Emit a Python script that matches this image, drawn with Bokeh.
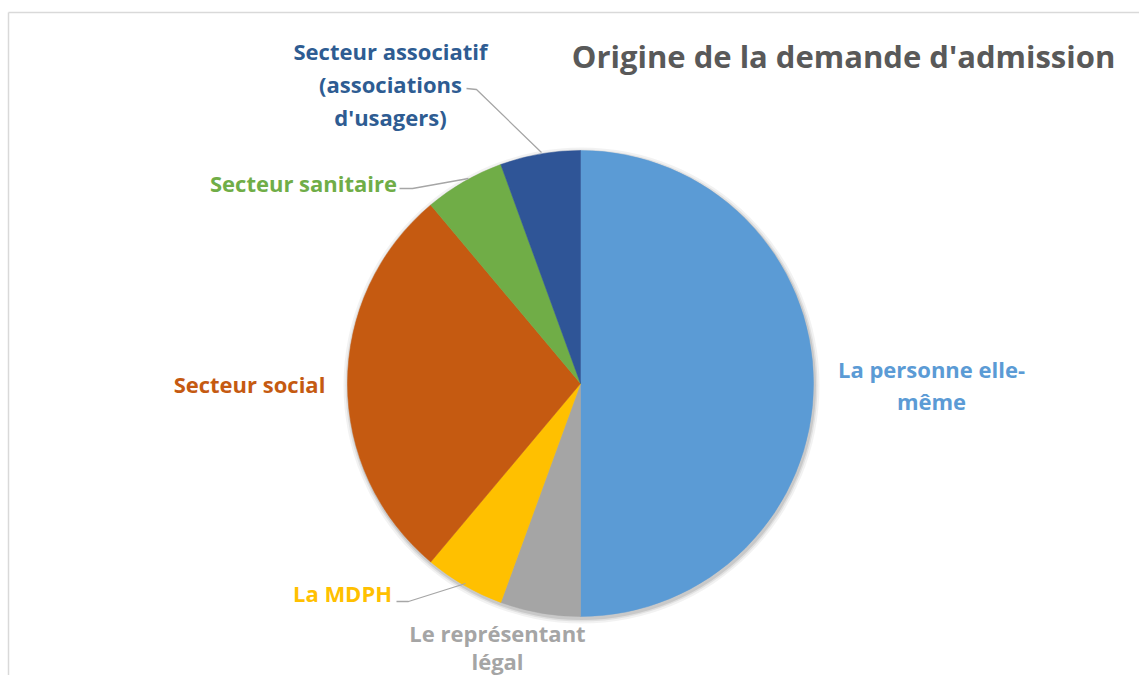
import math
from bokeh.plotting import figure
from bokeh.models import Range1d
from bokeh.core.properties import value
from bokeh.embed import file_html
from bokeh.resources import INLINE

# ---- data ----
categories = ["La personne elle-même", "Le représentant légal", "La MDPH",
              "Secteur social", "Secteur sanitaire",
              "Secteur associatif (associations d'usagers)"]
counts = [9, 1, 1, 5, 1, 1]
slice_colors = ["#5B9BD5", "#A5A5A5", "#FFC000", "#C55A11", "#70AD47", "#2F5597"]
label_colors = ["#5B9BD5", "#A5A5A5", "#FFC000", "#C55A11", "#70AD47", "#2E5C92"]
title_text = "Origine de la demande d'admission"

W, H = 1139, 675
FONT = "Open Sans"

p = figure(width=W, height=H, output_backend="svg", toolbar_location=None,
           x_range=Range1d(0, W), y_range=Range1d(0, H),
           min_border=0, outline_line_color=None)
p.axis.visible = False
p.grid.visible = False
p.background_fill_color = "white"
p.border_fill_color = "white"


def Y(sy):
    return H - sy


# chart frame border (light grey)
p.line([8, 8], [Y(12), Y(700)], line_color="#D9D9D9", line_width=1.5)
p.line([8, 1150], [Y(12), Y(12)], line_color="#D9D9D9", line_width=1.5)

# pie
cx, cy, R = 580, Y(383), 233
total = sum(counts)
starts, ends = [], []
acc = 0.0
for c in counts:
    a0 = math.pi / 2 - acc / total * 2 * math.pi
    acc += c
    a1 = math.pi / 2 - acc / total * 2 * math.pi
    starts.append(a0)
    ends.append(a1)

# soft shadow
for r, a in [(R + 5, 0.05), (R + 3, 0.07), (R + 1.5, 0.1)]:
    p.circle(x=[cx + 1], y=[cy - 2], radius=r, radius_units="screen",
             fill_color="#000000", fill_alpha=a, line_color=None)

p.wedge(x=[cx] * len(counts), y=[cy] * len(counts), radius=R, radius_units="screen",
        start_angle=starts, end_angle=ends, direction="clock",
        fill_color=slice_colors, line_color=slice_colors, line_width=0.5)

# leader lines
grey = "#A6A6A6"
p.line([466, 476, 541], [Y(88), Y(89), Y(152)], line_color=grey, line_width=1.3)
p.line([399, 412, 468], [Y(188), Y(188), Y(178)], line_color=grey, line_width=1.3)
p.line([396, 408, 465], [Y(601), Y(601), Y(583)], line_color=grey, line_width=1.3)

fs = "22px"


def label(lines, x, y0, color, dy=32):
    for k, t in enumerate(lines):
        p.text(x=[x], y=[Y(y0 + k * dy)], text=[t], text_font=value(FONT),
               text_font_style="bold", text_font_size=fs, text_color=color,
               text_align="center", text_baseline="middle")


label(["La personne elle-", "même"], 931, 368, label_colors[0])
label(["Le représentant", "légal"], 497, 632, label_colors[1], dy=28)
label(["La MDPH"], 342, 592, label_colors[2])
label(["Secteur social"], 249, 383, label_colors[3])
label(["Secteur sanitaire"], 303, 182, label_colors[4])
label(["Secteur associatif", "(associations", "d'usagers)"], 390, 50, label_colors[5], dy=33)

# title
p.text(x=[843], y=[Y(55)], text=[title_text], text_font=value(FONT),
       text_font_style="bold", text_font_size="31px", text_color="#595959",
       text_align="center", text_baseline="middle")

open("out.html", "w").write(file_html(p, INLINE))
